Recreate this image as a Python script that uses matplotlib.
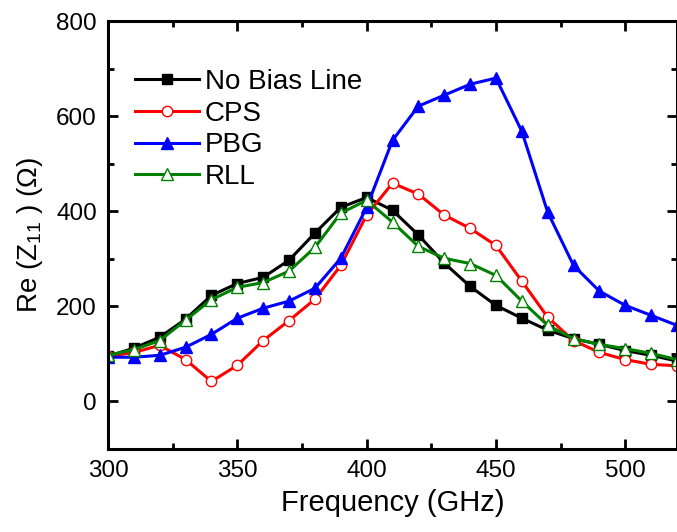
import matplotlib
matplotlib.use("Agg")
import matplotlib.pyplot as plt
from matplotlib.ticker import MultipleLocator

plt.rcParams['font.family'] = ['Liberation Sans', 'DejaVu Sans']
plt.rcParams['mathtext.fontset'] = 'custom'
plt.rcParams['mathtext.rm'] = 'Liberation Sans'
plt.rcParams['mathtext.it'] = 'Liberation Sans'

freq = [300, 310, 320, 330, 340, 350, 360, 370, 380, 390, 400, 410, 420,
        430, 440, 450, 460, 470, 480, 490, 500, 510, 520]
no_bias = [95, 112, 135, 173, 223, 248, 261, 297, 354, 408, 429, 402, 350,
           291, 242, 202, 175, 150, 132, 120, 107, 97, 85]
cps = [95, 103, 118, 88, 42, 76, 128, 170, 215, 286, 392, 459, 436,
       392, 364, 328, 253, 177, 128, 103, 88, 78, 75]
pbg = [93, 93, 97, 114, 141, 175, 196, 211, 238, 301, 408, 549, 621,
       644, 667, 680, 568, 398, 286, 232, 202, 181, 160]
rll = [97, 109, 128, 171, 214, 240, 250, 274, 324, 396, 423, 377, 326,
       301, 290, 265, 211, 160, 132, 120, 111, 101, 88]

labels = ["No Bias Line", "CPS", "PBG", "RLL"]

fig = plt.figure(figsize=(6.77, 5.32), dpi=100)
ax = fig.add_axes([108/677, 1 - 449/532, (677 - 108)/677, (449 - 21)/532])

lw = 2.2
ms = 7.5
ax.plot(freq, no_bias, color='black', lw=lw, marker='s', ms=ms-0.5,
        mfc='black', mec='black', label=labels[0])
ax.plot(freq, cps, color='red', lw=lw, marker='o', ms=ms,
        mfc='white', mec='red', mew=1.0, label=labels[1])
ax.plot(freq, pbg, color='blue', lw=lw, marker='^', ms=ms+1,
        mfc='blue', mec='blue', label=labels[2])
ax.plot(freq, rll, color='green', lw=lw, marker='^', ms=ms+1,
        mfc='white', mec='green', mew=1.0, label=labels[3])

ax.set_xlim(300, 520)
ax.set_ylim(-100, 800)
ax.xaxis.set_major_locator(MultipleLocator(50))
ax.xaxis.set_minor_locator(MultipleLocator(25))
ax.yaxis.set_major_locator(MultipleLocator(200))
ax.yaxis.set_minor_locator(MultipleLocator(100))
ax.tick_params(which='both', direction='in', top=True, right=True,
               width=2.0, labelsize=17.5, pad=8)
ax.tick_params(which='major', length=7)
ax.tick_params(which='minor', length=4)
for s in ax.spines.values():
    s.set_linewidth(2.2)

ax.set_xlabel("Frequency (GHz)", fontsize=21, labelpad=5)
ax.set_ylabel("Re (Z$_{11}$ ) (Ω)", fontsize=20, labelpad=8)

leg = ax.legend(loc='upper left', bbox_to_anchor=(124/677, 1 - 58/532),
                bbox_transform=fig.transFigure, frameon=False, fontsize=20,
                handlelength=2.3, handletextpad=0.2, labelspacing=0.2,
                borderaxespad=0)

fig.savefig("out.png", dpi=100)
